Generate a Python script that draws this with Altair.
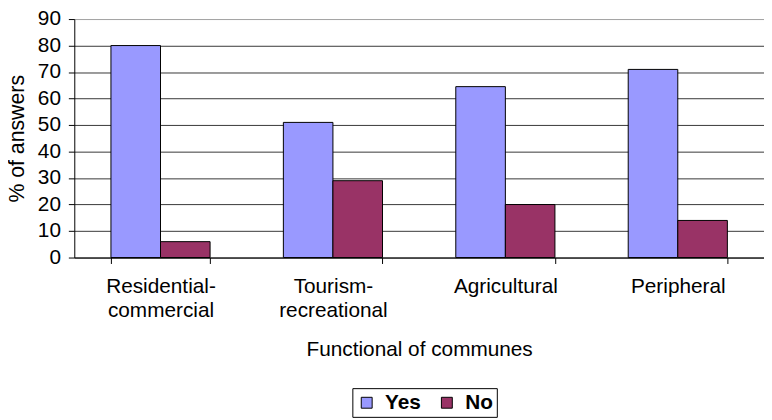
import altair as alt
import pandas as pd

categories = ["Residential-commercial", "Tourism-recreational", "Agricultural", "Peripheral"]
answers = ["Yes", "No"]
yes_values = [80, 51, 64.5, 71]
no_values = [6, 29, 20, 14]
y_ticks = [0, 10, 20, 30, 40, 50, 60, 70, 80, 90]
colors = ["#9999FF", "#993366"]

rows = []
for c, y, n in zip(categories, yes_values, no_values):
    rows.append({"commune": c, "answer": "Yes", "value": y})
    rows.append({"commune": c, "answer": "No", "value": n})
df = pd.DataFrame(rows)

FONT = "Liberation Sans"

label_expr = (
    "indexof(datum.label,'-') > 0 ? "
    "[slice(datum.label,0,indexof(datum.label,'-')+1), slice(datum.label,indexof(datum.label,'-')+1)]"
    " : datum.label"
)

chart = alt.Chart(df).mark_bar(stroke="black", strokeWidth=1).encode(
    x=alt.X(
        "commune:N",
        sort=categories,
        scale=alt.Scale(paddingInner=0.425, paddingOuter=0.2125),
        axis=alt.Axis(
            title="Functional of communes",
            labelAngle=0,
            labelExpr=label_expr,
            labelFont=FONT,
            labelFontSize=21,
            labelColor="black",
            labelLineHeight=25,
            labelPadding=12,
            tickBand="extent",
            tickSize=6,
            tickColor="black",
            domainColor="black",
            titleFont=FONT,
            titleFontSize=21,
            titleFontWeight="normal",
            titleColor="black",
            titlePadding=18,
            grid=False,
        ),
    ),
    xOffset=alt.XOffset("answer:N", sort=answers, scale=alt.Scale(paddingInner=0, paddingOuter=0)),
    y=alt.Y(
        "value:Q",
        scale=alt.Scale(domain=[0, 90], nice=False),
        axis=alt.Axis(
            title="% of answers",
            values=y_ticks,
            labelFont=FONT,
            labelFontSize=21,
            labelColor="black",
            labelPadding=8,
            tickSize=6,
            tickColor="black",
            domainColor="black",
            grid=True,
            gridColor={"condition": {"test": "datum.value == 90", "value": "#a0a0a0"}, "value": "#383838"},
            gridOpacity=1,
            titleFont=FONT,
            titleFontSize=21.5,
            titleFontWeight="normal",
            titleColor="black",
            titlePadding=9,
        ),
    ),
    color=alt.Color(
        "answer:N",
        sort=answers,
        scale=alt.Scale(domain=answers, range=colors),
        legend=alt.Legend(
            title=None,
            orient="none",
            direction="horizontal",
            legendX=281,
            legendY=373,
            symbolType="square",
            symbolSize=121,
            symbolStrokeColor="black",
            symbolStrokeWidth=1,
            labelFont=FONT,
            labelFontSize=21,
            labelFontWeight="bold",
            labelColor="black",
            labelOffset=8,
            columnPadding=15,
            strokeColor="black",
            padding=4,
        ),
    ),
).properties(
    width=697,
    height=241,
    autosize=alt.AutoSizeParams(type="none"),
    padding={"left": 67, "top": 9, "right": 0, "bottom": 162},
).configure_view(stroke=None)

chart.save("out.html", embed_options={"renderer": "svg", "actions": False})
